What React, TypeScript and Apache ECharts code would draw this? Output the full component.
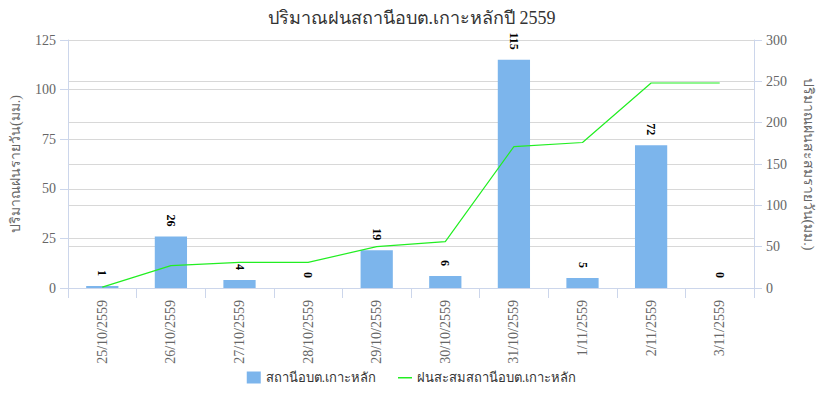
import React, { useEffect, useRef } from "react";
import * as echarts from "echarts";

const categories = [
  "25/10/2559", "26/10/2559", "27/10/2559", "28/10/2559", "29/10/2559",
  "30/10/2559", "31/10/2559", "1/11/2559", "2/11/2559", "3/11/2559",
];
const dailyRain = [1, 26, 4, 0, 19, 6, 115, 5, 72, 0];
const cumulativeRain = [1, 27, 31, 31, 50, 56, 171, 176, 248, 248];

const FONT = '"Liberation Serif", "DejaVu Serif", "Times New Roman", serif';

export default function App() {
  const ref = useRef<HTMLDivElement>(null);
  useEffect(() => {
    if (!ref.current) return;
    const chart = echarts.init(ref.current, undefined, { renderer: "svg" });
    chart.setOption({
      animation: false,
      backgroundColor: "#ffffff",
      textStyle: { fontFamily: FONT },
      title: {
        text: "ปริมาณฝนสถานีอบต.เกาะหลักปี 2559",
        left: "center",
        top: 4,
        textStyle: { fontFamily: FONT, fontSize: 18, fontWeight: "normal", color: "#333333" },
      },
      legend: {
        bottom: 4,
        left: "center",
        itemGap: 22,
        itemWidth: 14,
        itemHeight: 12,
        textStyle: { fontFamily: FONT, fontSize: 13, color: "#333333" },
        data: [
          { name: "สถานีอบต.เกาะหลัก", icon: "rect" },
          { name: "ฝนสะสมสถานีอบต.เกาะหลัก", icon: "path://M0,0 M0,5.5 L14,5.5 L14,7 L0,7 Z M14,12" },
        ],
      },
      grid: { left: 62, right: 63, top: 40, bottom: 105, containLabel: false },
      xAxis: {
        type: "category",
        data: categories,
        axisLine: { lineStyle: { color: "#ccd6eb" } },
        axisTick: { show: true, alignWithLabel: false, length: 10, lineStyle: { color: "#ccd6eb" } },
        axisLabel: { rotate: 90, color: "#666666", fontSize: 14, fontFamily: FONT, margin: 12 },
      },
      yAxis: [
        {
          type: "value",
          min: 0,
          max: 125,
          interval: 25,
          name: "ปริมาณฝนรายวัน(มม.)",
          nameLocation: "middle",
          nameGap: 46,
          nameTextStyle: { color: "#666666", fontSize: 14, fontFamily: FONT },
          axisLine: { show: true, lineStyle: { color: "#ccd6eb" } },
          axisTick: { show: true, length: 8, lineStyle: { color: "#ccd6eb" } },
          axisLabel: { color: "#666666", fontSize: 14, fontFamily: FONT, margin: 12 },
          splitLine: { show: true, lineStyle: { color: "#d8d8d8" } },
        },
        {
          type: "value",
          min: 0,
          max: 300,
          interval: 50,
          name: "ปริมาณฝนสะสมรายวัน(มม.)",
          nameLocation: "middle",
          nameRotate: -90,
          nameGap: 47,
          nameTextStyle: { color: "#666666", fontSize: 14, fontFamily: FONT },
          axisLine: { show: true, lineStyle: { color: "#ccd6eb" } },
          axisTick: { show: true, length: 8, lineStyle: { color: "#ccd6eb" } },
          axisLabel: { color: "#666666", fontSize: 14, fontFamily: FONT, margin: 12 },
          splitLine: { show: true, lineStyle: { color: "#d8d8d8" } },
        },
      ],
      series: [
        {
          name: "สถานีอบต.เกาะหลัก",
          type: "bar",
          data: dailyRain,
          yAxisIndex: 0,
          barWidth: "47%",
          itemStyle: { color: "#7cb5ec" },
          label: {
            show: true,
            position: "top",
            rotate: -90,
            distance: 10,
            align: "right",
            verticalAlign: "middle",
            color: "#000000",
            fontWeight: "bold",
            fontSize: 12,
            fontFamily: FONT,
          },
        },
        {
          name: "ฝนสะสมสถานีอบต.เกาะหลัก",
          type: "line",
          data: cumulativeRain,
          yAxisIndex: 1,
          showSymbol: false,
          symbol: "none",
          lineStyle: { color: "#22ee22", width: 1.2 },
          itemStyle: { color: "#22ee22" },
        },
      ],
    });
    return () => chart.dispose();
  }, []);
  return <div ref={ref} style={{ width: 823, height: 393, position: "absolute", left: 0, top: 0 }} />;
}
